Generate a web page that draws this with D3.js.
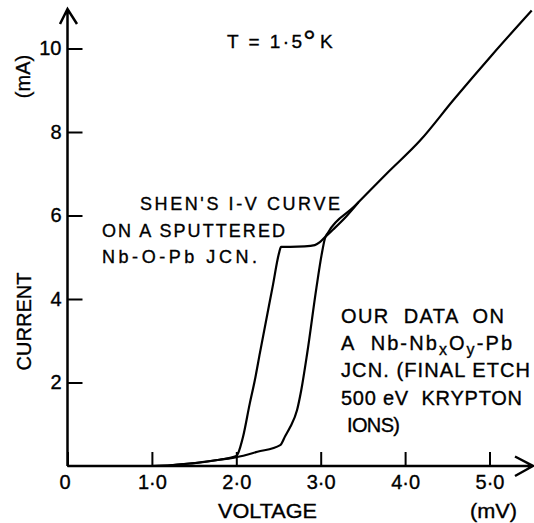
<!DOCTYPE html>
<html lang="en">
<head>
    <meta charset="UTF-8">
    <title>I-V curve</title>
    <script src="https://cdn.jsdelivr.net/npm/d3@7"></script>
    <style>
        body { margin: 0; background: #fff; }
        text { font-family: "Liberation Sans", Arial, sans-serif; fill: #000; stroke: #000; stroke-width: 0.35px; }
    </style>
</head>
<body>
    <script>
        const width = 534;
        const height = 523;

        // axis ticks
        var xTicks = [0, 1, 2, 3, 4, 5];
        var yTicks = [2, 4, 6, 8, 10];

        // Shen's curve (sputtered Nb-O-Pb)
        var shenV = [0, 1.0, 1.45, 1.8, 2.0, 2.02, 2.08, 2.16, 2.22, 2.28, 2.43, 2.51, 2.53, 2.64, 2.81, 2.93, 2.99, 3.06, 3.15, 3.30, 3.45];
        var shenI = [0, 0, 0.06, 0.15, 0.24, 0.30, 0.70, 1.50, 2.06, 2.71, 4.29, 5.13, 5.25, 5.25, 5.26, 5.29, 5.36, 5.50, 5.67, 5.97, 6.32];

        // our data (Nb-NbxOy-Pb)
        var ourV = [0, 1.0, 1.45, 1.8, 2.0, 2.25, 2.52, 2.58, 2.64, 2.72, 2.77, 2.84, 2.95, 3.01, 3.05, 3.09];
        var ourI = [0, 0, 0.06, 0.15, 0.21, 0.34, 0.50, 0.72, 0.94, 1.34, 1.82, 2.70, 4.28, 5.05, 5.45, 5.60];

        // normal-state branch both curves run into
        var commonV = [3.09, 3.39, 3.78, 4.18, 4.57, 5.04, 5.50];
        var commonI = [5.60, 6.20, 7.00, 7.80, 8.76, 9.87, 10.91];

        var svg = d3.select('body')
                    .append('svg')
                    .attr('width', width)
                    .attr('height', height);

        var xScale = d3.scaleLinear().domain([0, 5]).range([67.5, 489.5]);
        var yScale = d3.scaleLinear().domain([0, 10]).range([466, 48.5]);

        var fmt = function(d){
            return d === 0 ? '0' : d.toFixed(1).replace('.', '\u00b7');
        };

        // axes (ticks point inward, labels outside)
        var gx = svg.append('g')
                    .attr('transform', 'translate(0,' + yScale(0) + ')')
                    .call(d3.axisBottom(xScale).tickValues(xTicks).tickSize(-14).tickPadding(9).tickFormat(fmt));
        var gy = svg.append('g')
                    .attr('transform', 'translate(' + xScale(0) + ',0)')
                    .call(d3.axisLeft(yScale).tickValues(yTicks).tickSize(-15).tickPadding(6));
        [gx, gy].forEach(function(g){
            g.select('.domain').remove();
            g.selectAll('line').attr('stroke', '#000').attr('stroke-width', 2);
            g.selectAll('text').attr('font-size', 20).attr('font-family', '"Liberation Sans", Arial, sans-serif').attr('fill', '#000');
        });
        gx.selectAll('text').filter(function(d){ return d === 0; }).attr('dx', -3);

        var x0 = xScale(0), y0 = yScale(0);
        svg.append('path')
            .attr('d', 'M' + x0 + ',' + y0 + 'V9M60,24L' + x0 + ',9L77,24')
            .attr('fill', 'none').attr('stroke', '#000').attr('stroke-width', 2.5);
        svg.append('path')
            .attr('d', 'M' + x0 + ',' + y0 + 'H533M515,456.5L533,' + y0 + 'L515,476')
            .attr('fill', 'none').attr('stroke', '#000').attr('stroke-width', 2.5);

        var line = d3.line()
                     .x(function(d){ return xScale(d[0]); })
                     .y(function(d){ return yScale(d[1]); })
                     .curve(d3.curveMonotoneX);

        var shen = shenV.map(function(v, i){ return [v, shenI[i]]; });
        var ours = ourV.map(function(v, i){ return [v, ourI[i]]; })
                       .concat(commonV.slice(1).map(function(v, i){ return [v, commonI[i + 1]]; }));

        svg.selectAll('.iv').data([shen, ours]).enter()
            .append('path')
            .attr('class', 'iv')
            .attr('d', line)
            .attr('fill', 'none')
            .attr('stroke', '#000')
            .attr('stroke-width', 2.2);

        // axis titles
        svg.append('text').attr('x', 218).attr('y', 518).attr('font-size', 20)
            .attr('textLength', 99).attr('lengthAdjust', 'spacingAndGlyphs').text('VOLTAGE');
        svg.append('text').attr('x', 470).attr('y', 518).attr('font-size', 20)
            .attr('textLength', 47).attr('lengthAdjust', 'spacingAndGlyphs').text('(mV)');
        svg.append('text').attr('transform', 'translate(31,321.5) rotate(-90)')
            .attr('text-anchor', 'middle').attr('font-size', 20).text('CURRENT');
        svg.append('text').attr('transform', 'translate(30,76.5) rotate(-90)')
            .attr('text-anchor', 'middle').attr('font-size', 20).text('(mA)');

        // temperature
        var t = svg.append('text').attr('x', 227).attr('y', 48).attr('font-size', 19);
        t.append('tspan').attr('textLength', 75).attr('lengthAdjust', 'spacing').text('T = 1\u00b75');
        t.append('tspan').attr('x', 303).attr('y', 52).attr('font-size', 32).text('\u00b0');
        t.append('tspan').attr('x', 320).attr('y', 48).text('K');

        // Shen label
        var shenLines = ["SHEN'S I-V CURVE", 'ON A SPUTTERED', 'Nb-O-Pb JCN.'];
        var shenX = [140, 102, 102];
        var shenW = [200, 183, 155];
        svg.selectAll('.shen').data(shenLines).enter()
            .append('text')
            .attr('class', 'shen')
            .attr('x', function(d, i){ return shenX[i]; })
            .attr('y', function(d, i){ return 210 + i * 26.5; })
            .attr('font-family', '"DejaVu Sans Mono", monospace')
            .attr('font-size', 18)
            .attr('textLength', function(d, i){ return shenW[i]; })
            .attr('lengthAdjust', 'spacing')
            .text(function(d){ return d; });

        // our label
        var ourLines = ['OUR  DATA  ON', null, 'JCN. (FINAL ETCH', '500 eV  KRYPTON', 'IONS)'];
        var ourX = [341, 341, 341, 341, 347];
        var ourW = [163, 171, 189, 181, 53];
        ourLines.forEach(function(d, i){
            var tx = svg.append('text')
                        .attr('x', ourX[i])
                        .attr('y', 323 + i * 27.2)
                        .attr('font-size', 20)
                        .attr('textLength', ourW[i])
                        .attr('lengthAdjust', 'spacing')
                        .style('white-space', 'pre');
            if(d){
                tx.text(d);
            } else {
                tx.append('tspan').text('A  Nb-Nb');
                tx.append('tspan').attr('dy', 5).attr('font-size', 16).text('x');
                tx.append('tspan').attr('dy', -5).text('O');
                tx.append('tspan').attr('dy', 5).attr('font-size', 16).text('y');
                tx.append('tspan').attr('dy', -5).text('-Pb');
            }
        });
    </script>
</body>
</html>
